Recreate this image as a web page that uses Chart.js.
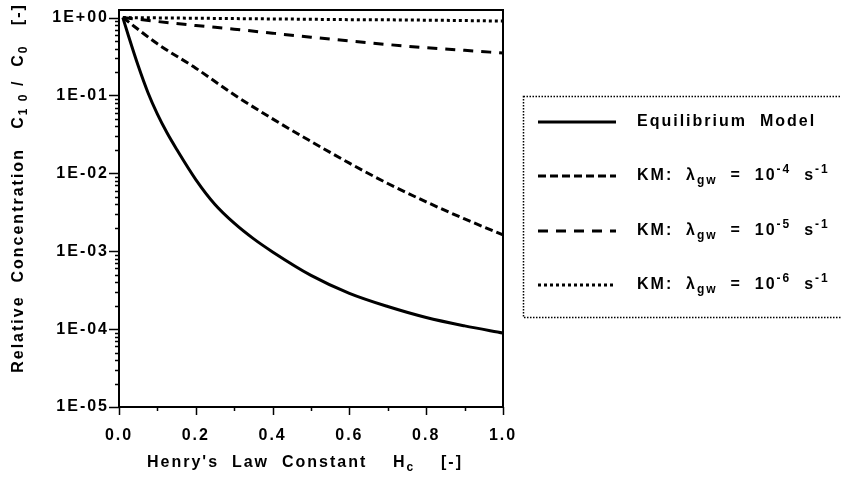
<!DOCTYPE html>
<html>
<head>
<meta charset="utf-8">
<script src="https://cdn.jsdelivr.net/npm/chart.js@4.4.0/dist/chart.umd.min.js"></script>
<style>
    html, body { margin: 0; padding: 0; background: #fff; }
    #wrap { width: 841px; height: 494px; }
</style>
</head>
<body>
<div id="wrap"><canvas id="chart"></canvas></div>
<script>
/**
 * Values.
 */
const eqH = [0.01, 0.025, 0.05, 0.075, 0.1, 0.125, 0.15, 0.2, 0.25, 0.3, 0.35, 0.4, 0.5, 0.6, 0.7, 0.8, 0.9, 1.0];
const equilibrium = [1, 0.575, 0.24, 0.11, 0.0575, 0.0331, 0.0204, 0.00832, 0.00398, 0.00229, 0.00145, 0.00098, 0.00049, 0.000288, 0.000195, 0.000141, 0.00011, 0.000089];

const kmH = [0.01, 0.1, 0.2, 0.3, 0.4, 0.5, 0.6, 0.7, 0.8, 0.9, 1.0];
const km4 = [1, 0.46, 0.224, 0.102, 0.05, 0.0257, 0.0135, 0.0074, 0.0043, 0.0026, 0.00162];
const km5 = [1, 0.89, 0.79, 0.71, 0.63, 0.56, 0.50, 0.45, 0.41, 0.38, 0.35];
const km6 = [1, 0.99, 0.98, 0.97, 0.96, 0.95, 0.94, 0.935, 0.925, 0.915, 0.9];

const xTickLabels = ['0.0', '', '0.2', '', '0.4', '', '0.6', '', '0.8', '', '1.0'];

// legend texts, as runs of normal / sub / sup text
const legendLabels = [
    [['Equilibrium  Model']],
    [['KM:  λ'], ['gw', 'sub'], ['  =  10'], ['-4', 'sup'], ['  s'], ['-1', 'sup']],
    [['KM:  λ'], ['gw', 'sub'], ['  =  10'], ['-5', 'sup'], ['  s'], ['-1', 'sup']],
    [['KM:  λ'], ['gw', 'sub'], ['  =  10'], ['-6', 'sup'], ['  s'], ['-1', 'sup']]
];
const yTitle = [['Relative  Concentration   C'], ['1 0', 'sub'], [' /  C'], ['0', 'sub'], ['   [-]']];
const xTitle = [["Henry's  Law  Constant    H"], ['c', 'sub'], ['    [-]']];

const FONT = 'Liberation Sans, Arial, sans-serif';
const SPACING = '2px';

function toPoints(xs, ys) {
    return xs.map((x, i) => ({x: x, y: ys[i]}));
}

function isDecade(v) {
    const e = Math.round(Math.log10(v));
    return Math.abs(v - Math.pow(10, e)) / v < 1e-6;
}

function decadeLabel(v) {
    const e = Math.round(Math.log10(v));
    const a = Math.abs(e);
    return '1E' + (e < 0 ? '-' : '+') + (a < 10 ? '0' : '') + a;
}

/**
 * Draw text made of runs; returns the width.
 */
function drawRuns(ctx, runs, x, y, measureOnly) {
    let w = 0;
    runs.forEach(run => {
        const kind = run[1];
        ctx.font = kind ? 'bold 12px ' + FONT : 'bold 16px ' + FONT;
        const dy = kind === 'sub' ? 5 : (kind === 'sup' ? -6 : 0);
        if (!measureOnly) {
            ctx.fillText(run[0], x + w, y + dy);
        }
        w += ctx.measureText(run[0]).width;
    });
    return w;
}

const decorations = {
    id: 'decorations',
    beforeLayout(chart) {
        chart.ctx.letterSpacing = SPACING;
    },
    beforeDraw(chart) {
        chart.ctx.letterSpacing = SPACING;
    },
    afterDraw(chart) {
        const ctx = chart.ctx;
        const area = chart.chartArea;
        const xs = chart.scales.x;
        const ys = chart.scales.y;
        ctx.save();
        ctx.strokeStyle = '#000';
        ctx.fillStyle = '#000';

        // frame
        ctx.lineWidth = 2;
        ctx.strokeRect(area.left, area.top, area.right - area.left, area.bottom - area.top);

        // tick marks
        ctx.lineWidth = 1.5;
        ctx.beginPath();
        ys.ticks.forEach(t => {
            const py = Math.round(ys.getPixelForValue(t.value)) + 0.5;
            const len = isDecade(t.value) ? 10 : 4;
            ctx.moveTo(area.left - len, py);
            ctx.lineTo(area.left, py);
        });
        xs.ticks.forEach((t, i) => {
            const px = Math.round(xs.getPixelForValue(t.value)) + 0.5;
            const len = i % 2 === 0 ? 8 : 4;
            ctx.moveTo(px, area.bottom);
            ctx.lineTo(px, area.bottom + len);
        });
        ctx.stroke();

        // axis titles
        ctx.letterSpacing = SPACING;
        ctx.textBaseline = 'middle';
        ctx.textAlign = 'left';
        let w = drawRuns(ctx, xTitle, 0, 0, true);
        drawRuns(ctx, xTitle, 305 - w / 2, 463);

        ctx.save();
        ctx.translate(19, 188);
        ctx.rotate(-Math.PI / 2);
        w = drawRuns(ctx, yTitle, 0, 0, true);
        drawRuns(ctx, yTitle, -w / 2, 0);
        ctx.restore();

        // legend box
        ctx.setLineDash([1.5, 1.5]);
        ctx.lineWidth = 1.5;
        ctx.strokeRect(523.5, 96.5, 330, 221);
        ctx.setLineDash([]);

        const rowY = [122, 176, 231, 285];
        chart.data.datasets.forEach((ds, i) => {
            const y = rowY[i];
            ctx.save();
            ctx.lineWidth = ds.borderWidth;
            ctx.setLineDash(ds.borderDash || []);
            ctx.beginPath();
            ctx.moveTo(538, y);
            ctx.lineTo(616, y);
            ctx.stroke();
            ctx.restore();
            drawRuns(ctx, legendLabels[i], 637, y);
        });
        ctx.restore();
    }
};

new Chart(document.getElementById('chart'), {
    type: 'line',
    data: {
        datasets: [
            {
                label: 'Equilibrium Model',
                data: toPoints(eqH, equilibrium),
                borderWidth: 3,
                borderDash: []
            },
            {
                label: 'KM: λgw = 10-4 s-1',
                data: toPoints(kmH, km4),
                borderWidth: 3,
                borderDash: [8, 4]
            },
            {
                label: 'KM: λgw = 10-5 s-1',
                data: toPoints(kmH, km5),
                borderWidth: 3,
                borderDash: [10, 8]
            },
            {
                label: 'KM: λgw = 10-6 s-1',
                data: toPoints(kmH, km6),
                borderWidth: 3,
                borderDash: [3, 3]
            }
        ]
    },
    options: {
        responsive: true,
        maintainAspectRatio: false,
        animation: false,
        devicePixelRatio: 1,
        layout: {
            padding: {left: 0, top: 10, right: 338, bottom: 0}
        },
        elements: {
            point: {radius: 0},
            line: {borderColor: '#000', fill: false, cubicInterpolationMode: 'monotone', borderCapStyle: 'butt'}
        },
        plugins: {
            legend: {display: false},
            tooltip: {enabled: false}
        },
        scales: {
            x: {
                type: 'linear',
                min: 0,
                max: 1,
                grid: {display: false},
                border: {display: false},
                afterFit(scale) {
                    scale.height = 87;
                    scale.paddingLeft = 0;
                    scale.paddingRight = 0;
                },
                ticks: {
                    stepSize: 0.1,
                    autoSkip: false,
                    maxRotation: 0,
                    padding: 11,
                    color: '#000',
                    font: {family: FONT, weight: 'bold', size: 16},
                    callback: (v, i) => xTickLabels[i]
                }
            },
            y: {
                type: 'logarithmic',
                min: 1e-5,
                max: 1.25,
                grid: {display: false},
                border: {display: false},
                afterFit(scale) {
                    scale.width = 119;
                    scale.paddingTop = 0;
                    scale.paddingBottom = 0;
                },
                afterBuildTicks(scale) {
                    scale.ticks = scale.ticks.filter(t => {
                        const e = Math.floor(Math.log10(t.value) + 1e-9);
                        const s = t.value / Math.pow(10, e);
                        return Math.abs(s - Math.round(s)) < 1e-6 && t.value <= 1.0001;
                    });
                },
                ticks: {
                    autoSkip: false,
                    padding: 2,
                    color: '#000',
                    font: {family: FONT, weight: 'bold', size: 16},
                    callback: v => isDecade(v) ? decadeLabel(v) : ''
                }
            }
        }
    },
    plugins: [decorations]
});
</script>
</body>
</html>
